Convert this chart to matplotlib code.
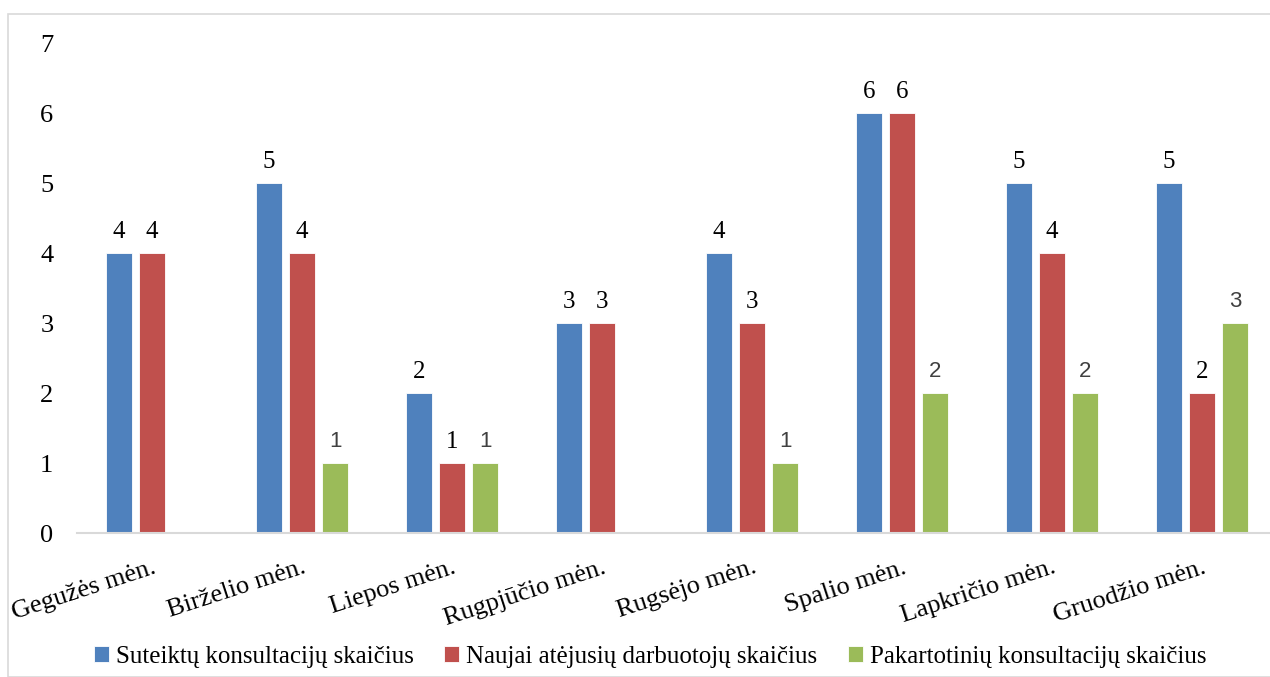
import numpy as np
import matplotlib
matplotlib.use("Agg")
import matplotlib.pyplot as plt
import matplotlib.transforms as mtransforms
from matplotlib.patches import Rectangle

months = ["Gegužės mėn.", "Birželio mėn.", "Liepos mėn.", "Rugpjūčio mėn.",
          "Rugsėjo mėn.", "Spalio mėn.", "Lapkričio mėn.", "Gruodžio mėn."]
suteikta = [4, 5, 2, 3, 4, 6, 5, 5]
naujai = [4, 4, 1, 3, 3, 6, 4, 2]
pakartotinai = [None, 1, 1, None, 1, 2, 2, 3]

series_names = ["Suteiktų konsultacijų skaičius",
                "Naujai atėjusių darbuotojų skaičius",
                "Pakartotinių konsultacijų skaičius"]
colors = ["#4f81bd", "#c0504d", "#9bbb59"]

SERIF = ["Liberation Serif", "DejaVu Serif"]
SANS = ["Liberation Sans", "DejaVu Sans"]

fig = plt.figure(figsize=(12.7, 6.77), dpi=100)
# outer chart border
fig.patches.append(Rectangle((8 / 1270, 0), 1.2, (677 - 14) / 677,
                             transform=fig.transFigure, fill=False,
                             edgecolor="#d9d9d9", linewidth=1.2))

ax = fig.add_axes([77 / 1270, (677 - 533) / 677, 1200 / 1270, 490 / 677])

x = np.arange(len(months))
width = 0.175
step = 0.222
all_series = [suteikta, naujai, pakartotinai]
for i, (vals, name, col) in enumerate(zip(all_series, series_names, colors)):
    v = np.array([np.nan if a is None else a for a in vals], dtype=float)
    pos = x + (i - 1) * step
    ax.bar(pos, np.nan_to_num(v), width, color=col, label=name,
           edgecolor="white", linewidth=0.6)
    for px, val in zip(pos, v):
        if np.isnan(val):
            continue
        if i == 2:
            ax.annotate(f"{int(val)}", (px, val), xytext=(0, 8),
                        textcoords="offset points", ha="center", va="bottom",
                        fontsize=16, color="#404040", family=SANS)
        else:
            ax.annotate(f"{int(val)}", (px, val), xytext=(0, 7),
                        textcoords="offset points", ha="center", va="bottom",
                        fontsize=18, color="black", family=SERIF)

ax.set_xlim(-0.5, len(months) - 0.5)
ax.set_ylim(0, 7)
ax.set_yticks(range(0, 8))
ax.set_yticklabels([str(t) for t in range(0, 8)], family=SERIF, fontsize=19)
ax.set_xticks(x)
ax.set_xticklabels(months, rotation=18, ha="right", rotation_mode="anchor",
                   family=SERIF, fontsize=19)
shift = mtransforms.ScaledTranslation(6 / 100, 0, fig.dpi_scale_trans)
for lbl in ax.get_xticklabels():
    lbl.set_transform(lbl.get_transform() + shift)
ax.tick_params(axis="both", length=0)
ax.tick_params(axis="y", pad=17)
ax.tick_params(axis="x", pad=17)
for s in ["top", "right", "left"]:
    ax.spines[s].set_visible(False)
ax.spines["bottom"].set_color("#d9d9d9")
ax.spines["bottom"].set_linewidth(1.5)

leg = fig.legend(loc="center", bbox_to_anchor=(650 / 1270, 1 - 657 / 677),
                 ncol=3, frameon=False, prop={"family": SERIF, "size": 18},
                 handlelength=0.6, handleheight=0.6, handletextpad=0.3,
                 columnspacing=1.2)

fig.savefig("out.png", dpi=100)
